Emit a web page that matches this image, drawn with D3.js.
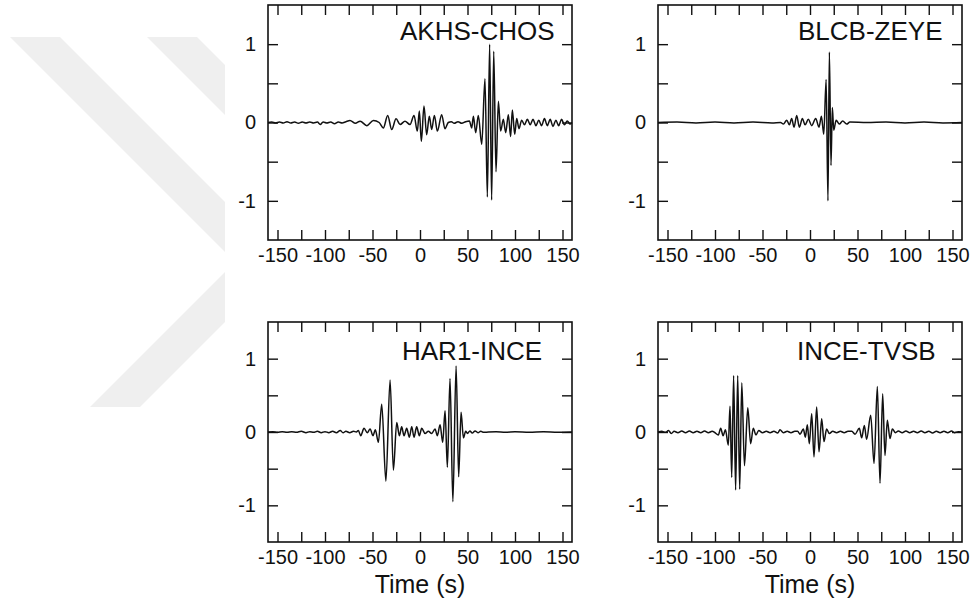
<!DOCTYPE html>
<html>
<head>
<meta charset="utf-8">
<script src="https://cdn.jsdelivr.net/npm/d3@7"></script>
<style>
  body { margin: 0; background: #fff; }
  svg { display: block; font-family: "Liberation Sans", Arial, Helvetica, sans-serif; }
</style>
</head>
<body>
<svg id="chart" width="975" height="605"></svg>
<script>
// station pairs, one per panel
const stationPairs = ["AKHS-CHOS", "BLCB-ZEYE", "HAR1-INCE", "INCE-TVSB"];

// tick values
const xTicks = [-150, -125, -100, -75, -50, -25, 0, 25, 50, 75, 100, 125, 150];
const xLabels = [-150, -100, -50, 0, 50, 100, 150];
const yTicks = [-1, -0.5, 0, 0.5, 1];
const yLabels = [-1, 0, 1];
const xLabel = "Time (s)";

// cross-correlation traces, [lag time (s), normalised amplitude]
const akhsChos = [
  [-160, 0], [-156, 0.006], [-152, -0.006], [-148, 0.006], [-144, -0.006], [-140, 0.01], [-136, -0.006],
  [-132, 0.006], [-128, -0.01], [-124, 0.006], [-120, -0.006], [-116, 0.006], [-112, -0.006], [-108, 0.005],
  [-105, -0.025], [-102, 0.006], [-98, -0.006], [-94, 0.006], [-90, -0.015], [-86, 0.006], [-82, -0.006],
  [-78, 0.01], [-73.7, 0.025], [-68, -0.01], [-63, 0.017], [-56, -0.04], [-49, 0.026], [-43, 0.0],
  [-38.6, -0.07], [-34, 0.09], [-29.8, -0.09], [-25.2, 0.047], [-21, -0.026], [-15.8, 0.017],
  [-10.5, -0.026], [-6.3, 0.09], [-2.8, -0.11], [-0.7, 0.146], [1.4, -0.24], [4.2, 0.21], [7, -0.155],
  [9.8, 0.08], [12.3, -0.09], [15.1, 0.09], [18.3, -0.11], [22.8, 0.1], [26.3, -0.08], [29.8, 0.0],
  [33, 0.01], [36, -0.01], [40, 0.01], [44, -0.01], [48, 0.01], [52, 0.02], [54.4, -0.07], [56.2, 0.08],
  [58.6, -0.13], [61.4, 0.09], [65, -0.28], [68.4, 0.56], [70.9, -0.95], [73.3, 1.0], [75.4, -0.99],
  [77.6, 0.91], [80, -0.63], [82.5, 0.27], [84.9, -0.11], [87.7, 0.04], [90.2, -0.13], [93, 0.1],
  [95.4, -0.18], [97.2, 0.16], [99.7, -0.15], [101.8, 0.05], [104.2, -0.08], [107, 0.03], [110, -0.03],
  [113, 0.04], [116, -0.03], [119, 0.04], [122, -0.04], [125, 0.03], [128, -0.04], [131, 0.05],
  [134, -0.04], [137, 0.04], [140, -0.05], [143, 0.03], [146, -0.04], [149, 0.04], [152, -0.03],
  [155, 0.02], [158, -0.02], [160, 0]
];
const blcbZeye = [
  [-160, 0], [-140, 0.005], [-120, -0.005], [-100, 0.005], [-80, -0.005], [-60, 0.005], [-40, -0.005],
  [-31, 0], [-28, -0.02], [-24.5, 0.03], [-21.7, -0.03], [-19.3, 0.05], [-16.8, -0.06], [-14, 0.09],
  [-11.2, -0.06], [-8, 0.05], [-5.2, -0.03], [-1.7, 0.04], [1.8, -0.04], [6, 0.05], [9.5, -0.06],
  [12, 0.08], [14.5, -0.15], [17, 0.55], [18.9, -1.0], [20.4, 0.9], [22.1, -0.55], [23.5, 0.19],
  [25, -0.1], [27.5, 0.03], [30.9, -0.02], [34.4, 0.02], [38.6, -0.02], [42, 0.005], [60, 0],
  [80, 0.005], [100, -0.005], [120, 0.005], [140, -0.005], [160, 0]
];
const har1Ince = [
  [-160, 0], [-155, 0.005], [-150, -0.005], [-145, 0.005], [-140, -0.005], [-135, 0.005], [-130, -0.005],
  [-125, 0.01], [-120, -0.01], [-116, 0.005], [-112, -0.005], [-108, 0.01], [-104, -0.01], [-100, 0.005],
  [-96, -0.01], [-92, 0.01], [-88, -0.01], [-84, 0.02], [-81, -0.01], [-78, 0.01], [-74, -0.01],
  [-70, 0.01], [-67, 0.0], [-64.9, 0.02], [-62.4, -0.05], [-58.9, 0.05], [-55.5, -0.01], [-52.5, 0.04],
  [-49.5, -0.05], [-47, 0.03], [-43.8, -0.14], [-40.3, 0.38], [-35.9, -0.67], [-31.5, 0.71],
  [-28, -0.52], [-24.5, 0.13], [-21.7, -0.05], [-19.3, 0.07], [-16.8, -0.05], [-14, 0.05], [-11.2, -0.07],
  [-8.7, 0.07], [-6.3, -0.07], [-3.5, 0.07], [-0.7, -0.05], [1.8, 0.05], [5.3, -0.02], [8.8, 0.01],
  [12.3, -0.02], [15.8, 0.04], [18.3, -0.05], [21.1, 0.1], [23.9, -0.14], [26.4, 0.29], [28.8, -0.48],
  [31.6, 0.73], [34.6, -0.95], [38, 0.9], [40.7, -0.61], [43.2, 0.27], [45.7, -0.08], [48.1, 0.01],
  [50, -0.02], [52.5, 0.015], [55, -0.015], [58, 0.015], [61, -0.01], [64, 0.01], [67, -0.005],
  [72, 0], [80, 0.003], [90, -0.003], [100, 0.003], [115, -0.003], [130, 0.003], [145, -0.003], [160, 0]
];
const inceTvsb = [
  [-160, 0], [-156, 0.01], [-152, -0.005], [-149, 0.02], [-146, -0.02], [-143, 0.01], [-139, -0.01],
  [-135, 0.015], [-131, -0.01], [-127, 0.015], [-123, -0.01], [-119, 0.01], [-115, -0.01], [-111, 0.015],
  [-107, -0.01], [-103, 0.01], [-100, -0.01], [-96.5, -0.04], [-94, 0.05], [-91.5, -0.05], [-89, 0.03],
  [-86, -0.18], [-84.2, 0.35], [-82.4, -0.62], [-80.4, 0.77], [-78.3, -0.79], [-76.1, 0.77],
  [-74, -0.78], [-71.8, 0.67], [-69, -0.46], [-65.5, 0.33], [-62.5, -0.16], [-59.7, 0.05], [-56.9, -0.04],
  [-54, 0.02], [-50, -0.01], [-46, 0.01], [-42, -0.01], [-38, 0.01], [-34, -0.015], [-31.6, 0.03],
  [-28, -0.01], [-24, 0.01], [-20, -0.01], [-16, 0.01], [-13, 0.01], [-10.5, -0.03], [-7, 0.04],
  [-4.9, -0.07], [-2.8, 0.1], [-0.7, -0.16], [1.8, 0.25], [4.2, -0.34], [7, 0.34], [9.5, -0.27],
  [12.3, 0.18], [14.7, -0.13], [17.5, 0.04], [20.3, -0.02], [24, 0.01], [28, -0.01], [32, 0.01],
  [36, -0.01], [40, 0.01], [44, 0.01], [47.4, -0.03], [51.9, 0.05], [54.4, -0.08], [57.2, 0.09],
  [59.6, -0.1], [63.9, 0.23], [67.4, -0.43], [70.9, 0.62], [73.7, -0.7], [76.5, 0.52], [78.9, -0.32],
  [81.4, 0.16], [84.2, -0.09], [86.7, 0.04], [90, -0.01], [93, 0.015], [97, -0.01], [101, 0.015],
  [105, -0.01], [109, 0.01], [113, -0.01], [117, 0.015], [121, -0.01], [125, 0.01], [129, -0.015],
  [133, 0.01], [137, -0.01], [141, 0.01], [145, -0.01], [149, 0.015], [152, -0.01], [156, 0.005], [160, 0]
];
const traces = [akhsChos, blcbZeye, har1Ince, inceTvsb];

// panel layout (frame box in pixels)
const panels = [
  { left: 268, top: 5,   width: 304, height: 235, titleDx: 132, titleDy: 35, axisTitle: false },
  { left: 658, top: 5,   width: 304, height: 235, titleDx: 140, titleDy: 35, axisTitle: false },
  { left: 268, top: 322, width: 304, height: 220, titleDx: 134, titleDy: 38, axisTitle: true },
  { left: 658, top: 322, width: 304, height: 220, titleDx: 139, titleDy: 38, axisTitle: true }
];

const svg = d3.select("#chart");

// light watermark in the background
const watermark = [
  [[10, 37], [60, 37], [225, 202], [225, 252]],
  [[225, 272], [225, 322], [140, 407], [90, 407]],
  [[147, 37], [197, 37], [225, 65], [225, 115]]
];
svg.append("g")
  .selectAll("polygon")
  .data(watermark)
  .join("polygon")
    .attr("points", d => d.map(p => p.join(",")).join(" "))
    .attr("fill", "#efefef");

const tickLen = 10;

panels.forEach((p, i) => {
  const g = svg.append("g").attr("transform", `translate(${p.left},${p.top})`);

  const x = d3.scaleLinear().domain([-160, 160]).range([0, p.width]);
  const y = d3.scaleLinear().domain([-1.5, 1.5]).range([p.height, 0]);

  const fmtX = d => xLabels.includes(d) ? String(d) : "";
  const fmtY = d => yLabels.includes(d) ? String(d) : "";

  // bottom axis with labels, ticks pointing inward
  g.append("g")
    .attr("transform", `translate(0,${p.height})`)
    .call(d3.axisBottom(x).tickValues(xTicks).tickSizeInner(-tickLen).tickSizeOuter(0).tickPadding(8).tickFormat(fmtX))
    .call(a => a.select(".domain").remove())
    .call(a => a.selectAll("text").attr("font-size", 20).attr("font-family", null).attr("fill", "#111"));

  g.append("g")
    .call(d3.axisTop(x).tickValues(xTicks).tickSizeInner(-tickLen).tickSizeOuter(0).tickFormat(""))
    .call(a => a.select(".domain").remove());

  g.append("g")
    .call(d3.axisLeft(y).tickValues(yTicks).tickSizeInner(-tickLen).tickSizeOuter(0).tickPadding(12).tickFormat(fmtY))
    .call(a => a.select(".domain").remove())
    .call(a => a.selectAll("text").attr("font-size", 20).attr("font-family", null).attr("fill", "#111"));

  g.append("g")
    .attr("transform", `translate(${p.width},0)`)
    .call(d3.axisRight(y).tickValues(yTicks).tickSizeInner(-tickLen).tickSizeOuter(0).tickFormat(""))
    .call(a => a.select(".domain").remove());

  g.selectAll(".tick line").attr("stroke", "#111").attr("stroke-width", 1.4);

  // waveform
  const line = d3.line()
    .x(d => x(d[0]))
    .y(d => y(d[1]))
    .curve(d3.curveMonotoneX);

  g.append("path")
    .datum(traces[i])
    .attr("d", line)
    .attr("fill", "none")
    .attr("stroke", "#111")
    .attr("stroke-width", 1.5)
    .attr("stroke-linejoin", "round");

  // frame
  g.append("rect")
    .attr("width", p.width)
    .attr("height", p.height)
    .attr("fill", "none")
    .attr("stroke", "#111")
    .attr("stroke-width", 1.6);

  // station pair title
  g.append("text")
    .attr("x", p.titleDx)
    .attr("y", p.titleDy)
    .attr("font-size", 26)
    .attr("fill", "#111")
    .text(stationPairs[i]);

  if (p.axisTitle) {
    g.append("text")
      .attr("x", p.width / 2)
      .attr("y", p.height + 51)
      .attr("text-anchor", "middle")
      .attr("font-size", 25)
      .attr("fill", "#111")
      .text(xLabel);
  }
});
</script>
</body>
</html>
